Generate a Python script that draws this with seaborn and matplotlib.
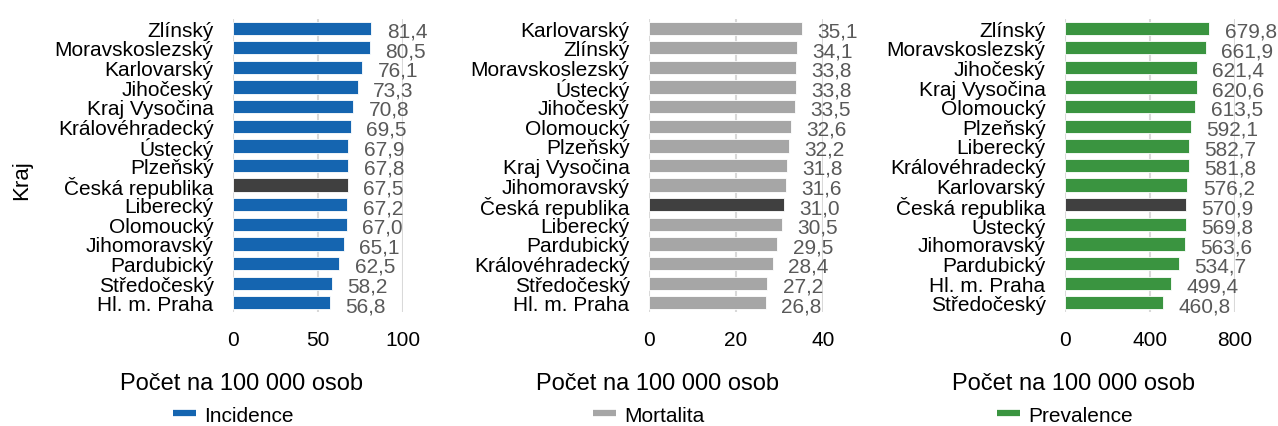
import matplotlib
matplotlib.use("Agg")
import matplotlib.pyplot as plt
import seaborn as sns
import pandas as pd
from matplotlib.lines import Line2D

# ---------------------------------------------------------------
# Data (values per 100 000 persons, sorted as in the source chart)
# ---------------------------------------------------------------
INC_REGIONS = ["Zlínský", "Moravskoslezský", "Karlovarský", "Jihočeský",
               "Kraj Vysočina", "Královéhradecký", "Ústecký", "Plzeňský",
               "Česká republika", "Liberecký", "Olomoucký", "Jihomoravský",
               "Pardubický", "Středočeský", "Hl. m. Praha"]
INC_VALUES = [81.4, 80.5, 76.1, 73.3, 70.8, 69.5, 67.9, 67.8,
              67.5, 67.2, 67.0, 65.1, 62.5, 58.2, 56.8]

MORT_REGIONS = ["Karlovarský", "Zlínský", "Moravskoslezský", "Ústecký",
                "Jihočeský", "Olomoucký", "Plzeňský", "Kraj Vysočina",
                "Jihomoravský", "Česká republika", "Liberecký", "Pardubický",
                "Královéhradecký", "Středočeský", "Hl. m. Praha"]
MORT_VALUES = [35.1, 34.1, 33.8, 33.8, 33.5, 32.6, 32.2, 31.8,
               31.6, 31.0, 30.5, 29.5, 28.4, 27.2, 26.8]

PREV_REGIONS = ["Zlínský", "Moravskoslezský", "Jihočeský", "Kraj Vysočina",
                "Olomoucký", "Plzeňský", "Liberecký", "Královéhradecký",
                "Karlovarský", "Česká republika", "Ústecký", "Jihomoravský",
                "Pardubický", "Hl. m. Praha", "Středočeský"]
PREV_VALUES = [679.8, 661.9, 621.4, 620.6, 613.5, 592.1, 582.7, 581.8,
               576.2, 570.9, 569.8, 563.6, 534.7, 499.4, 460.8]

SERIES = ["Incidence", "Mortalita", "Prevalence"]
X_TICKS = [[0, 50, 100], [0, 20, 40], [0, 400, 800]]
X_LABEL = "Počet na 100 000 osob"
Y_LABEL = "Kraj"
NATIONAL = "Česká republika"

COLORS = {"Incidence": "#1565B0", "Mortalita": "#A6A6A6", "Prevalence": "#3A9440"}
NATIONAL_COLOR = "#404040"
LABEL_COLOR = "#595959"

# axes placement in figure pixels (left, width)
AX_PIX = [(233, 170), (649, 174), (1065, 170)]
FIG_W, FIG_H = 1278, 427
AX_TOP, AX_BOTTOM = 20, 313


def fmt(v):
    return f"{v:.1f}".replace(".", ",")


def draw_panel(ax, regions, values, series, ticks, first):
    df = pd.DataFrame({"Kraj": regions, "Hodnota": values})
    palette = {r: (NATIONAL_COLOR if r == NATIONAL else COLORS[series]) for r in regions}

    sns.barplot(data=df, x="Hodnota", y="Kraj", hue="Kraj", palette=palette,
                order=regions, hue_order=regions, orient="h", width=0.68,
                saturation=1, edgecolor="white", linewidth=0.6, legend=False,
                ax=ax, zorder=3)

    for i, v in enumerate(values):
        ax.annotate(fmt(v), xy=(v, i), xytext=(11, -2), textcoords="offset points",
                    ha="left", va="center", fontsize=15, color=LABEL_COLOR,
                    annotation_clip=False)

    ax.set_xlim(ticks[0], ticks[-1])
    ax.set_ylim(len(regions) - 0.53, -0.47)
    ax.set_xticks(ticks)
    ax.grid(axis="x", color="#D9D9D9", linewidth=1.5, zorder=0)
    ax.grid(axis="y", visible=False)
    for s in ax.spines.values():
        s.set_visible(False)
    ax.tick_params(axis="both", length=0, labelsize=15, colors="black")
    ax.tick_params(axis="y", pad=14)
    ax.tick_params(axis="x", pad=13)

    ax.set_xlabel(X_LABEL, fontsize=17, color="black")
    ax.xaxis.label.set_va("center")
    ax_w = ax.get_position().width * FIG_W
    ax_h = ax.get_position().height * FIG_H
    ax.xaxis.set_label_coords(0.05, -(384 - AX_BOTTOM) / ax_h)

    if first:
        ax.set_ylabel(Y_LABEL, fontsize=16, color="black")
        ax.yaxis.label.set_va("center")
        ax.yaxis.set_label_coords(-(233 - 22) / ax_w, (AX_BOTTOM - 180) / ax_h)
    else:
        ax.set_ylabel("")

    handle = Line2D([0], [0], color=COLORS[series], linewidth=4.5,
                    solid_capstyle="butt")
    leg = ax.legend([handle], [series], loc="center", frameon=False, fontsize=15,
                    bbox_to_anchor=(0.0, -(416 - AX_BOTTOM) / ax_h),
                    handlelength=1.1, handletextpad=0.4)
    for t in leg.get_texts():
        t.set_color("black")


def main():
    sns.set_theme(style="white")
    plt.rcParams["font.family"] = ["Liberation Sans", "DejaVu Sans"]

    fig = plt.figure(figsize=(FIG_W / 100, FIG_H / 100), dpi=100)
    data = [(INC_REGIONS, INC_VALUES), (MORT_REGIONS, MORT_VALUES),
            (PREV_REGIONS, PREV_VALUES)]
    for k, ((regions, values), series, ticks) in enumerate(zip(data, SERIES, X_TICKS)):
        left, width = AX_PIX[k]
        ax = fig.add_axes([left / FIG_W, 1 - AX_BOTTOM / FIG_H,
                           width / FIG_W, (AX_BOTTOM - AX_TOP) / FIG_H])
        draw_panel(ax, regions, values, series, ticks, k == 0)

    fig.savefig("out.png", dpi=100)
    plt.close(fig)


if __name__ == "__main__":
    main()
